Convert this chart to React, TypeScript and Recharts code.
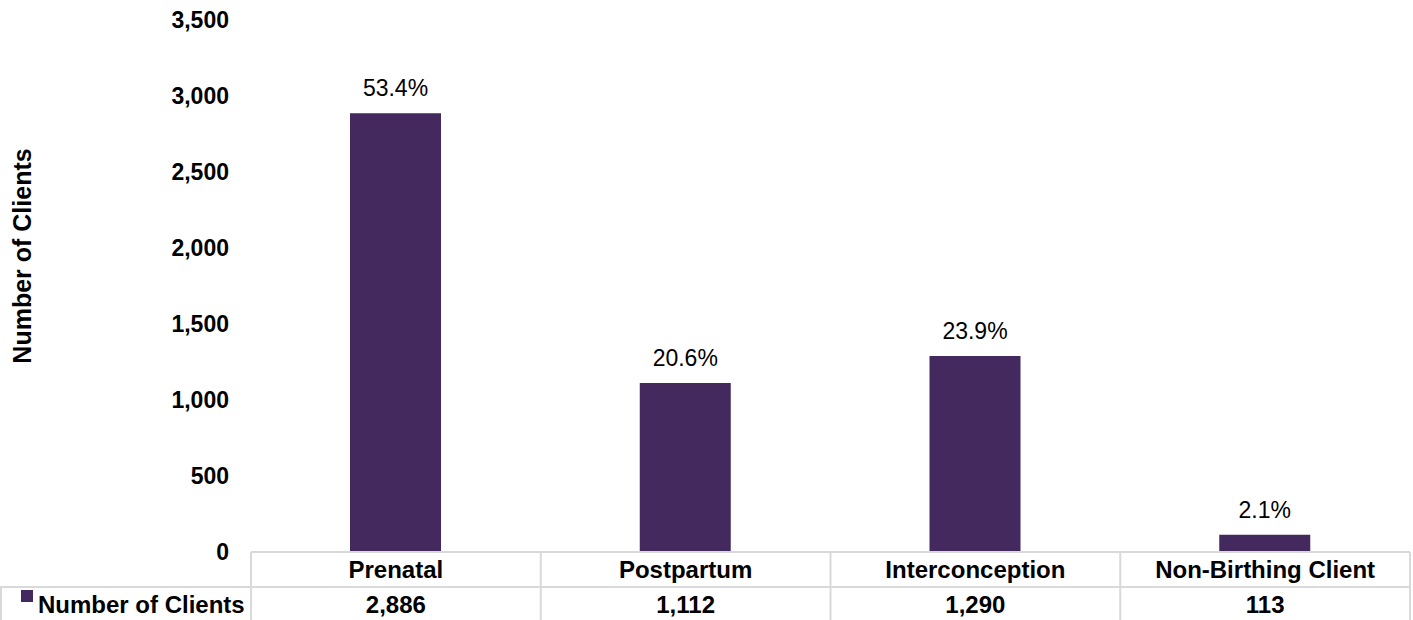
import { BarChart, Bar, XAxis, YAxis, LabelList } from "recharts";

const categories = ["Prenatal", "Postpartum", "Interconception", "Non-Birthing Client"];
const clients = [2886, 1112, 1290, 113];
const shares = [53.4, 20.6, 23.9, 2.1];
const yTicks = [0, 500, 1000, 1500, 2000, 2500, 3000, 3500];
const seriesName = "Number of Clients";

const data = categories.map((name, i) => ({
  name,
  clients: clients[i],
  share: shares[i],
}));

const W = 1413;
const H = 620;
const PLOT_LEFT = 251;
const PLOT_RIGHT = 1410;
const PLOT_TOP = 20;
const AXIS_Y = 552;
const ROW = 35;
const BAND = (PLOT_RIGHT - PLOT_LEFT) / categories.length;

const FONT = "'Liberation Sans', Arial, sans-serif";
const BAR_COLOR = "#43295E";
const GRID = "#D9D9D9";

const fmt = (v: number) => v.toLocaleString("en-US");

// data table under the plot: category row, value row, legend key cell
const TableTick = (props: any) => {
  const { x, payload } = props;
  const i = payload.index;
  const left = x - BAND / 2;
  const right = x + BAND / 2;
  const lineProps = { stroke: GRID, strokeWidth: 2 };
  return (
    <g fontFamily={FONT} fontWeight="bold" fontSize={24} fill="#000">
      <line x1={left} x2={right} y1={AXIS_Y} y2={AXIS_Y} {...lineProps} />
      <line x1={left} x2={right} y1={AXIS_Y + ROW} y2={AXIS_Y + ROW} {...lineProps} />
      <line x1={left} x2={left} y1={AXIS_Y} y2={H} {...lineProps} />
      {i === categories.length - 1 && (
        <line x1={right} x2={right} y1={AXIS_Y} y2={H} {...lineProps} />
      )}
      <text x={x} y={AXIS_Y + ROW / 2} textAnchor="middle" dominantBaseline="central">
        {payload.value}
      </text>
      <text x={x} y={AXIS_Y + ROW * 1.5} textAnchor="middle" dominantBaseline="central">
        {fmt(clients[i])}
      </text>
      {i === 0 && (
        <g>
          <line x1={0} x2={left} y1={AXIS_Y + ROW} y2={AXIS_Y + ROW} {...lineProps} />
          <line x1={1} x2={1} y1={AXIS_Y + ROW} y2={H} {...lineProps} />
          <rect x={21} y={AXIS_Y + ROW + 3} width={12} height={12} fill={BAR_COLOR} />
          <text x={38} y={AXIS_Y + ROW * 1.5} dominantBaseline="central">
            {seriesName}
          </text>
        </g>
      )}
    </g>
  );
};

const AxisTitle = () => (
  <text
    x={22}
    y={256}
    transform="rotate(-90, 22, 256)"
    textAnchor="middle"
    dominantBaseline="central"
    fontFamily={FONT}
    fontWeight="bold"
    fontSize={25}
    fill="#000"
  >
    {seriesName}
  </text>
);

export default function App() {
  return (
    <div style={{ position: "absolute", left: 0, top: 0, background: "#fff" }}>
      <BarChart
        width={W}
        height={H}
        data={data}
        margin={{ top: PLOT_TOP, right: W - PLOT_RIGHT, bottom: 0, left: 0 }}
      >
        <YAxis
          width={PLOT_LEFT}
          domain={[0, 3500]}
          ticks={yTicks}
          axisLine={false}
          tickLine={false}
          tickSize={0}
          tickMargin={22}
          tickFormatter={fmt}
          tick={{ fill: "#000", fontSize: 23, fontWeight: "bold", fontFamily: FONT }}
          label={<AxisTitle />}
        />
        <XAxis
          dataKey="name"
          height={H - AXIS_Y}
          axisLine={false}
          tickLine={false}
          interval={0}
          tick={<TableTick />}
        />
        <Bar dataKey="clients" fill={BAR_COLOR} barSize={91} isAnimationActive={false}>
          <LabelList
            dataKey="share"
            position="top"
            offset={17}
            formatter={(v: any) => `${Number(v).toFixed(1)}%`}
            style={{ fill: "#000", fontSize: 23, fontFamily: FONT }}
          />
        </Bar>
      </BarChart>
    </div>
  );
}
